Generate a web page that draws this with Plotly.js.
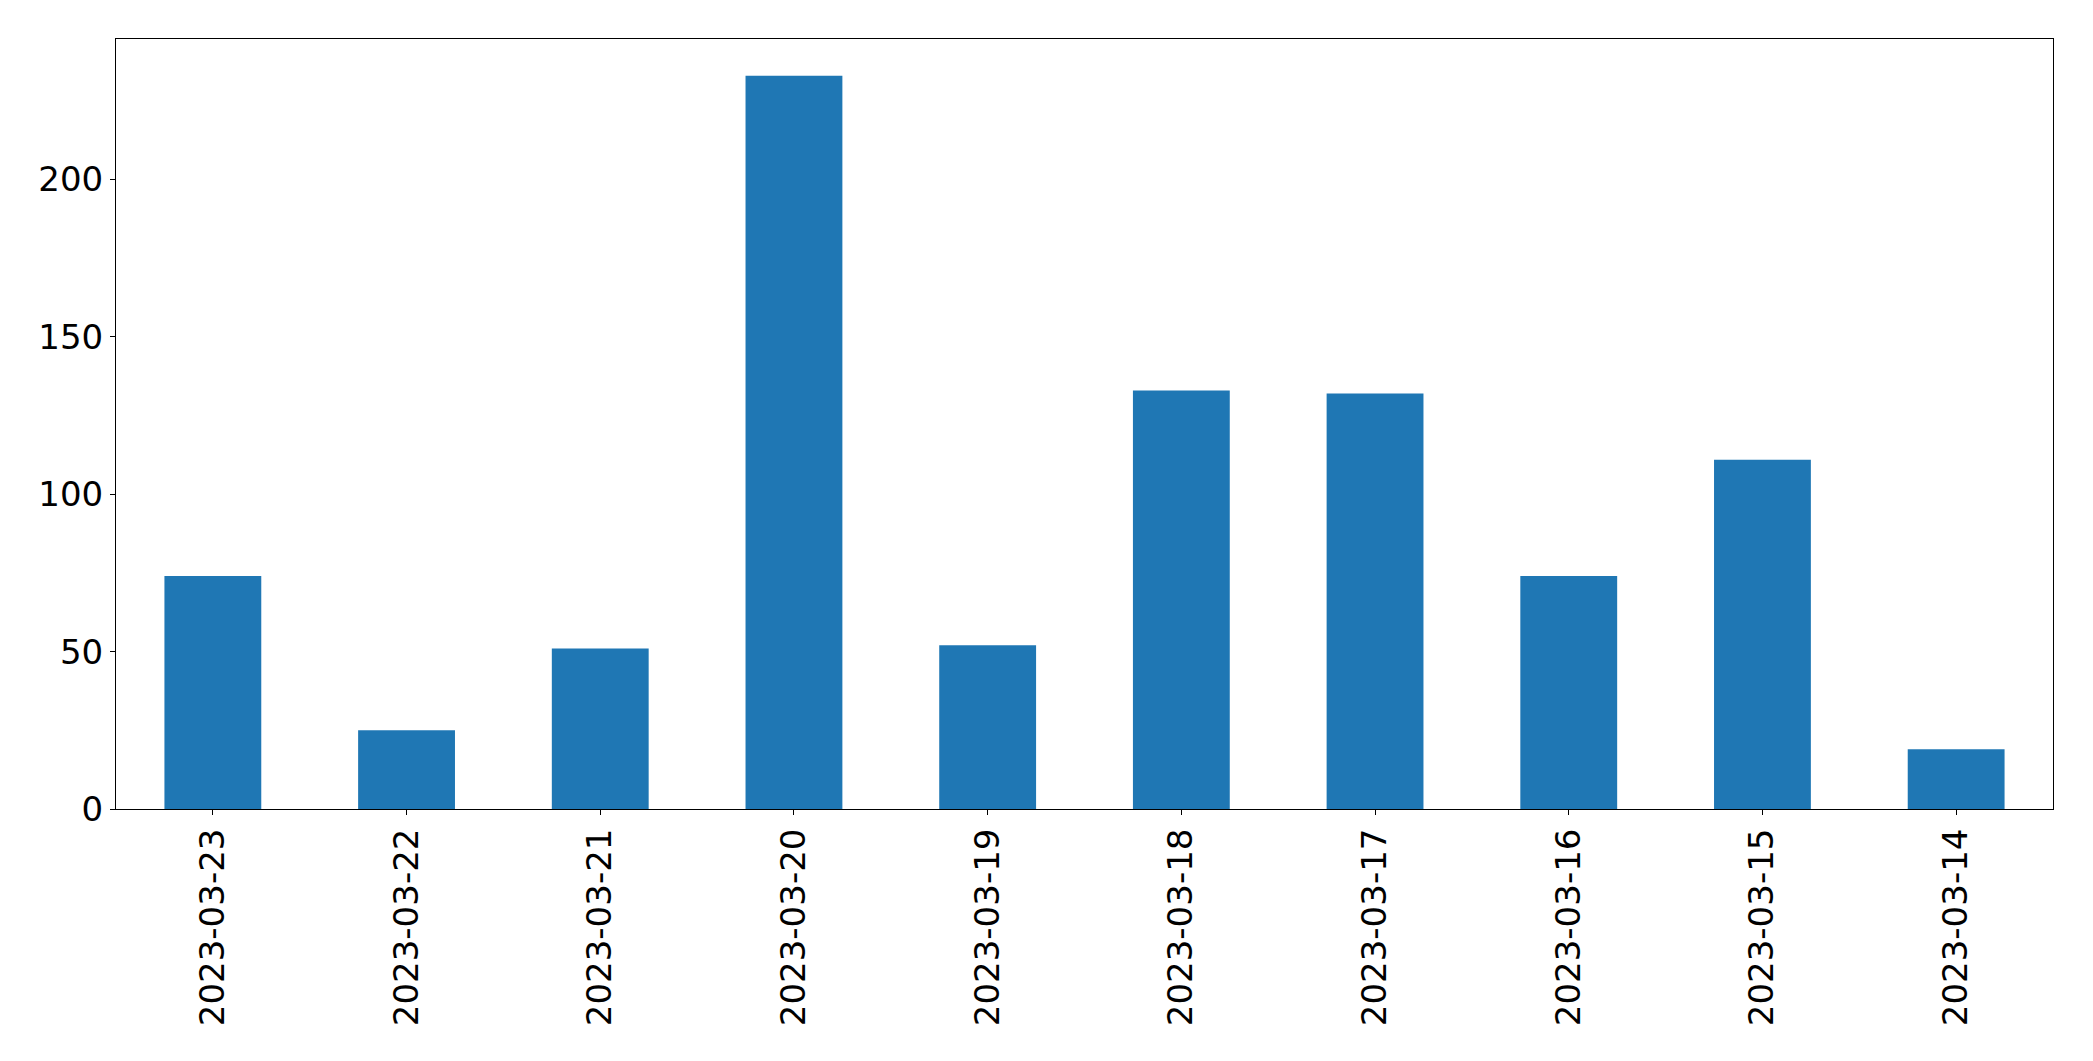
<!DOCTYPE html>
<html>
<head>
<meta charset="utf-8">
<script src="https://cdn.plot.ly/plotly-3.0.1.min.js"></script>
<style>html,body{margin:0;padding:0;background:#fff;}#chart{width:2093px;height:1061px;}</style>
</head>
<body>
<div id="chart"></div>
<script>
const categories = ["2023-03-23","2023-03-22","2023-03-21","2023-03-20","2023-03-19","2023-03-18","2023-03-17","2023-03-16","2023-03-15","2023-03-14"];
const counts = [74, 25, 51, 233, 52, 133, 132, 74, 111, 19];
const yTicks = [0, 50, 100, 150, 200];

const font = {family: "DejaVu Sans", size: 34, color: "#000"};

Plotly.newPlot("chart", [{
  type: "bar",
  x: categories,
  y: counts,
  marker: {color: "#1f77b4", line: {width: 0}},
  hoverinfo: "x+y"
}], {
  width: 2093, height: 1061,
  margin: {l: 116, r: 40, t: 39, b: 252, pad: 0},
  paper_bgcolor: "#fff", plot_bgcolor: "#fff",
  bargap: 0.5,
  showlegend: false,
  font: font,
  xaxis: {
    type: "category",
    range: [-0.5, categories.length - 0.5],
    tickangle: -90,
    ticks: "outside", ticklen: 5, tickwidth: 1, tickcolor: "#000",
    showline: true, linecolor: "#000", linewidth: 1, mirror: true,
    showgrid: false, zeroline: false,
    tickfont: font
  },
  yaxis: {
    range: [0, Math.max(...counts) * 1.05],
    tickvals: yTicks,
    ticktext: yTicks.map(String),
    ticks: "outside", ticklen: 5, tickwidth: 1, tickcolor: "#000",
    showline: true, linecolor: "#000", linewidth: 1, mirror: true,
    showgrid: false, zeroline: false,
    tickfont: font
  }
}, {staticPlot: true});
</script>
</body>
</html>
